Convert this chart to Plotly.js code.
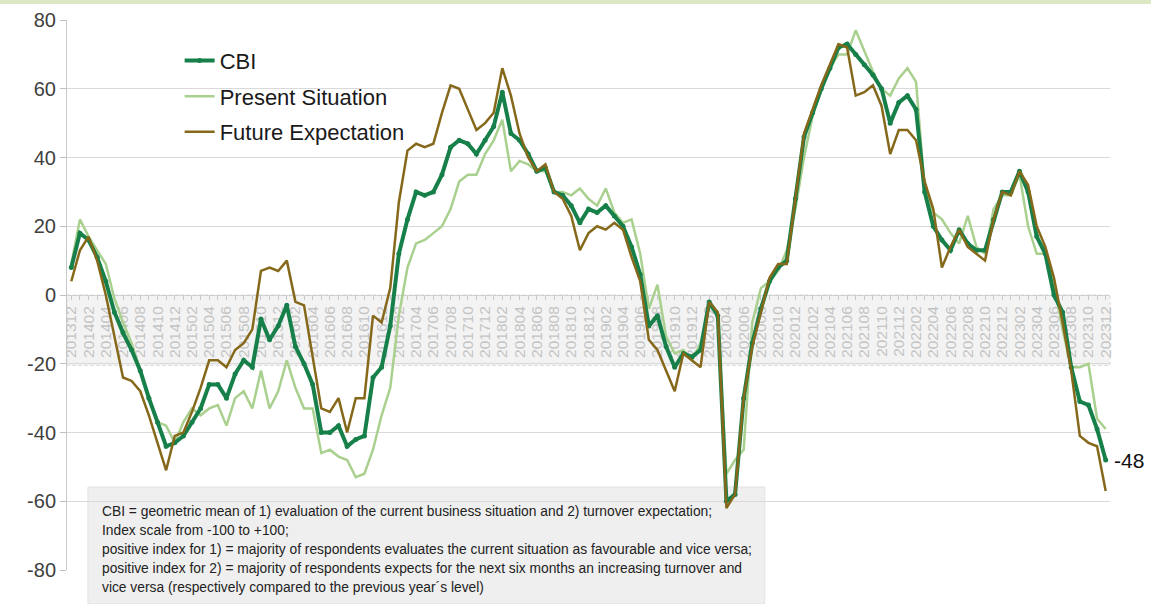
<!DOCTYPE html>
<html>
<head>
<meta charset="utf-8">
<script src="https://cdn.plot.ly/plotly-3.0.1.min.js"></script>
<style>html,body{margin:0;padding:0;background:#fff;}#chart{width:1151px;height:604px;}</style>
</head>
<body>
<div id="chart"></div>
<script>
const months = [
"201312",
"201401","201402","201403","201404","201405","201406","201407","201408","201409","201410","201411","201412",
"201501","201502","201503","201504","201505","201506","201507","201508","201509","201510","201511","201512",
"201601","201602","201603","201604","201605","201606","201607","201608","201609","201610","201611","201612",
"201701","201702","201703","201704","201705","201706","201707","201708","201709","201710","201711","201712",
"201801","201802","201803","201804","201805","201806","201807","201808","201809","201810","201811","201812",
"201901","201902","201903","201904","201905","201906","201907","201908","201909","201910","201911","201912",
"202001","202002","202003","202004","202005","202006","202007","202008","202009","202010","202011","202012",
"202101","202102","202103","202104","202105","202106","202107","202108","202109","202110","202111","202112",
"202201","202202","202203","202204","202205","202206","202207","202208","202209","202210","202211","202212",
"202301","202302","202303","202304","202305","202306","202307","202308","202309","202310","202311","202312"
];

const tickLabels = [
"201312","201402","201404","201406","201408","201410","201412",
"201502","201504","201506","201508","201510","201512",
"201602","201604","201606","201608","201610","201612",
"201702","201704","201706","201708","201710","201712",
"201802","201804","201806","201808","201810","201812",
"201902","201904","201906","201908","201910","201912",
"202002","202004","202006","202008","202010","202012",
"202102","202104","202106","202108","202110","202112",
"202202","202204","202206","202208","202210","202212",
"202302","202304","202306","202308","202310","202312"
];

const yTicks = [-80, -60, -40, -20, 0, 20, 40, 60, 80];
const yTickText = ["-80", "-60", "-40", "-20", "0", "20", "40", "60", "80"];

const cbi = [
8,
18,16,11,4,-5,-11,-16,-22,-30,-37,-44,-43,
-41,-37,-33,-26,-26,-30,-23,-19,-21,-7,-13,-9,
-3,-15,-20,-26,-40,-40,-38,-44,-42,-41,-24,-21,
-9,12,22,30,29,30,35,43,45,44,41,45,
49,59,47,45,41,36,37,30,29,26,21,25,
24,26,23,20,14,6,-9,-6,-15,-21,-17,-18,
-16,-2,-6,-60,-58,-30,-14,-4,4,8,10,28,
46,53,60,66,72,73,70,67,64,60,50,56,
58,54,30,20,16,13,19,15,13,13,22,30,
30,36,30,17,12,0,-5,-21,-31,-32,-39,-48
];

const presentSituation = [
9,
22,17,13,9,-1,-8,-14,-22,-30,-37,-38,-43,
-37,-33,-35,-33,-32,-38,-30,-28,-33,-22,-33,-28,
-19,-27,-33,-33,-46,-45,-47,-48,-53,-52,-45,-35,
-27,-6,8,15,16,18,20,25,33,35,35,41,
45,51,36,39,38,36,36,30,30,29,31,28,
26,31,24,21,22,12,-4,3,-12,-17,-16,-19,
-14,-3,-6,-52,-48,-45,-8,2,4,7,13,25,
40,52,60,66,70,70,77,71,65,60,58,63,
66,62,31,24,22,18,15,23,14,12,25,29,
29,35,20,12,12,3,-10,-21,-21,-20,-36,-39
];

const futureExpectation = [
4,
13,17,10,0,-12,-24,-25,-28,-35,-43,-51,-41,
-40,-34,-27,-19,-19,-21,-16,-14,-10,7,8,7,
10,-2,-3,-18,-33,-34,-30,-40,-30,-30,-6,-8,
2,27,42,44,43,44,53,61,60,54,48,50,
53,66,58,47,40,36,38,30,28,23,13,18,
20,19,21,19,11,4,-13,-16,-22,-28,-17,-19,
-21,-2,-5,-62,-58,-30,-15,-5,5,9,9,28,
47,54,61,67,73,72,58,59,61,55,41,48,
48,45,33,25,8,14,19,14,12,10,22,30,
29,36,32,20,14,5,-8,-22,-41,-43,-44,-57
];

const seriesNames = ["CBI", "Present Situation", "Future Expectation"];
const lastLabel = "-48";
const noteText = [
"CBI = geometric mean of 1) evaluation of the current business situation and 2) turnover expectation;",
"Index scale from -100 to +100;",
"positive index for 1) = majority of respondents evaluates the current situation as favourable and vice versa;",
"positive index for 2) = majority of respondents expects for the next six months an increasing turnover and",
"vice versa (respectively compared to the previous year´s level)"
];

const FONT = "Liberation Sans, Arial, sans-serif";
const C_CBI = "#17804a", C_PS = "#a9d08e", C_FE = "#85681a";

const traces = [
  {x: months, y: presentSituation, name: seriesNames[1], type: "scatter", mode: "lines",
   line: {color: C_PS, width: 2.5}, legendrank: 2, legendgroup: "b"},
  {x: months, y: cbi, name: seriesNames[0], type: "scatter", mode: "lines+markers",
   line: {color: C_CBI, width: 4}, marker: {color: C_CBI, size: 5}, legendrank: 1, legendgroup: "a"},
  {x: months, y: futureExpectation, name: seriesNames[2], type: "scatter", mode: "lines",
   line: {color: C_FE, width: 2.5}, legendrank: 3, legendgroup: "c"}
];

// note lines placed one by one (pixel centres 511..587 mapped to paper fraction)
const noteAnnotations = noteText.map((t, k) => ({
  x: 0.032, y: (570 - (511 + 19 * k)) / 550, xref: "paper", yref: "paper",
  xanchor: "left", yanchor: "middle", text: t, showarrow: false, align: "left",
  font: {size: 13.8, color: "#222", family: FONT}
}));

const layout = {
  width: 1151, height: 604,
  margin: {l: 67, r: 41, t: 20, b: 34},
  paper_bgcolor: "#ffffff", plot_bgcolor: "#ffffff",
  font: {family: FONT, color: "#333"},
  showlegend: true,
  legend: {x: 0.108, y: 0.964, xanchor: "left", yanchor: "top", bgcolor: "rgba(0,0,0,0)",
           font: {size: 22, color: "#1a1a1a", family: FONT}, tracegroupgap: 4, traceorder: "grouped"},
  xaxis: {
    type: "category", range: [-0.5, months.length - 0.5],
    anchor: "free", position: 0.5,
    tickmode: "array", tickvals: months,
    ticktext: months.map(m => tickLabels.includes(m) ? m : ""),
    tickangle: -90, tickfont: {size: 15.5, color: "#c4c4c4", family: FONT},
    ticks: "outside", ticklen: 4, tickcolor: "#c8c8c8",
    showline: true, linecolor: "#d0d0d0", linewidth: 1,
    showgrid: false, zeroline: false, layer: "below traces", fixedrange: true
  },
  yaxis: {
    range: [-80, 80], tickmode: "array", tickvals: yTicks, ticktext: yTickText,
    tickfont: {size: 20, color: "#404040", family: FONT},
    ticks: "outside", ticklen: 6, tickcolor: "#bfbfbf",
    showline: true, linecolor: "#c8c8c8", linewidth: 1,
    showgrid: true, gridcolor: "#d9d9d9", gridwidth: 1, zeroline: false
  },
  shapes: [
    {type: "rect", xref: "paper", yref: "y", x0: 0, x1: 1, y0: 0, y1: -20.5,
     fillcolor: "rgba(238,238,238,0.7)", line: {color: "#d4d4d4", width: 1, dash: "dot"}, layer: "below"},
    {type: "rect", xref: "paper", yref: "paper", x0: -0.1, x1: 1.1, y0: 1.029, y1: 1.05,
     fillcolor: "#dde7c4", line: {width: 0}, layer: "below"},
    {type: "rect", xref: "paper", yref: "paper", x0: 0.0201, x1: 0.669, y0: -0.0618, y1: 0.151,
     fillcolor: "#efefef", line: {color: "#e2e2e2", width: 1}, layer: "between"}
  ],
  annotations: [
    {x: months.length - 1, y: cbi[cbi.length - 1], xref: "x", yref: "y",
     text: lastLabel, showarrow: false, xanchor: "left", yanchor: "middle", xshift: 6,
     font: {size: 21, color: "#111", family: FONT}}
  ].concat(noteAnnotations)
};

Plotly.newPlot("chart", traces, layout, {displayModeBar: false, staticPlot: true});
</script>
</body>
</html>
